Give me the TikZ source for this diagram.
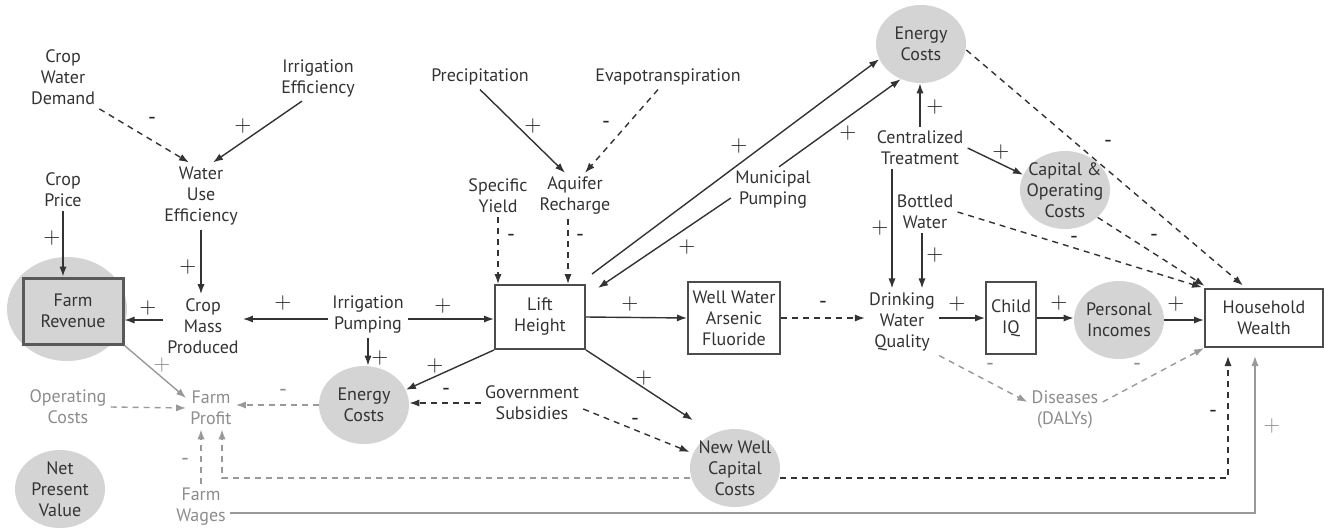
\documentclass[tikz,border=0pt]{standalone}
\usepackage{fontspec}
\setmainfont{PT Sans}
\usetikzlibrary{arrows.meta,shapes.geometric}

\begin{document}
\begin{tikzpicture}[x=0.5pt,y=-0.5pt,
  every node/.style={font=\fontsize{9}{10.5}\selectfont,align=center,inner sep=2pt,text=black!80},
  faint/.style={text=black!45},
  stock/.style={draw=black!70,line width=1pt},
  blob/.style={ellipse,fill=black!17,minimum width=45pt,minimum height=39pt,inner sep=-4pt},
  inc/.style={draw=black!80,line width=0.7pt,-{Latex[length=5pt,width=3.6pt]}},
  dec/.style={inc,dash pattern=on 3pt off 2.5pt},
  pale/.style={draw=black!40},
  sgn/.style={font=\fontsize{11}{11}\selectfont,inner sep=0pt,text=black!85}]
  \useasboundingbox (0,0) rectangle (1324,531);

  % variables
  \node (cwd) at (63,77) {Crop\\Water\\Demand};
  \node (ieff) at (318,78) {Irrigation\\Efficiency};
  \node (wue) at (201,196) {Water\\Use\\Efficiency};
  \node (cprice) at (63,190) {Crop\\Price};
  \node[blob,minimum width=60pt,minimum height=52pt] (frevc) at (67,309) {};
  \node[stock,fill=black!17,draw=black!65,line width=1.5pt,minimum width=50pt,minimum height=33pt] (frev) at (73,311) {Farm\\Revenue};
  \node (cmass) at (203,326) {Crop\\Mass\\Produced};
  \node (ipump) at (368,315) {Irrigation\\Pumping};
  \node[stock,minimum width=45pt,minimum height=32pt] (lift) at (540,317) {Lift\\Height};
  \node[stock,minimum width=46pt,minimum height=36pt] (wwaf) at (734,318) {Well Water\\Arsenic\\Fluoride};
  \node (dwq) at (902,322) {Drinking\\Water\\Quality};
  \node[stock,minimum width=25pt,minimum height=36pt] (ciq) at (1011,318) {Child\\IQ};
  \node[blob] (pinc) at (1119,320) {Personal\\Incomes};
  \node[stock,minimum width=59pt,minimum height=29pt] (hw) at (1264,318) {Household\\Wealth};
  \node[faint] (dis) at (1065,410) {Diseases\\(DALYs)};
  \node[blob] (ecb) at (364,405) {Energy\\Costs};
  \node[faint] (fprof) at (211,408) {Farm\\Profit};
  \node[faint] (opc) at (68,407) {Operating\\Costs};
  \node[blob] (npv) at (60,489) {Net\\Present\\Value};
  \node[faint] (fwag) at (201,507) {Farm\\Wages};
  \node (gsub) at (532,403) {Government\\Subsidies};
  \node[blob] (nwcc) at (735,468) {New Well\\Capital\\Costs};
  \node (sy) at (498,196) {Specific\\Yield};
  \node (ar) at (575,196) {Aquifer\\Recharge};
  \node (prec) at (480,77) {Precipitation};
  \node (evap) at (668,77) {Evapotranspiration};
  \node (mpump) at (773,190) {Municipal\\Pumping};
  \node[blob] (ect) at (921,44) {Energy\\Costs};
  \node (ctreat) at (920,148) {Centralized\\Treatment};
  \node[blob] (cop) at (1065,190) {Capital \&\\Operating\\Costs};
  \node (bw) at (925,212) {Bottled\\Water};

  % farm side
  \draw[dec] (cwd.south east) -- ([xshift=-6pt]wue.north);
  \draw[inc] ([xshift=-8pt]ieff.south) -- ([xshift=6pt]wue.north);
  \draw[inc] (cprice.south) -- (cprice.south |- frev.north);
  \draw[inc] (wue.south) -- (wue.south |- cmass.north);
  \draw[inc] ([yshift=3pt]cmass.west) -- ([yshift=3pt]cmass.west -| frev.east);
  \draw[inc] ([yshift=-2pt]ipump.west) -- ([yshift=-2pt]ipump.west -| cmass.east);
  \draw[inc] ([yshift=-2pt]ipump.east) -- ([yshift=-2pt]ipump.east -| lift.west);
  \draw[inc] (ipump.south) -- (ipump.south |- ecb.north);
  \draw[inc] (lift.south west) -- (ecb.20);
  \draw[dec] (gsub.west) -- (gsub.west -| ecb.east);
  \draw[dec,pale] (ecb.west) -- (ecb.west -| fprof.east);
  \draw[inc,pale] (frev.south east) -- ([yshift=5pt]fprof.west);
  \draw[dec,pale] (opc.east) -- (fprof.west);
  \draw[dec,pale] (fwag.north) -- (fwag.north |- fprof.south);
  \draw[dec,pale] ([yshift=-5pt]nwcc.west) -| ([xshift=5.5pt]fprof.south);

  % aquifer and lift
  \draw[inc] (prec.south) -- ([xshift=-5pt]ar.north);
  \draw[dec] ([xshift=-5pt]evap.south) -- ([xshift=5pt]ar.north);
  \draw[dec] (sy.south) -- (sy.south |- lift.north);
  \draw[dec] ([xshift=-3.5pt]ar.south) -- ([xshift=-3.5pt]ar.south |- lift.north);
  \draw[inc] ([xshift=3pt,yshift=5pt]lift.north east) -- (ect.200);
  \draw[inc] ([xshift=3pt]mpump.north) -- (ect.240);
  \draw[inc] ([yshift=-4pt]mpump.west) -- ([xshift=6pt,yshift=-2pt]lift.north east);
  \draw[inc] (lift.east) -- (wwaf.west);
  \draw[inc] (lift.south east) -- ([shift={(-5pt,10pt)}]nwcc.north west);
  \draw[dec] ([yshift=-3pt]gsub.east) -- ([yshift=8pt]nwcc.west);

  % drinking water
  \draw[dec] (wwaf.east) -- (wwaf.east -| dwq.west);
  \draw[inc] (ctreat.north) -- (ctreat.north |- ect.south);
  \draw[inc] (ctreat.east) -- (cop.160);
  \draw[inc] ([xshift=-14pt]ctreat.south) -- ([xshift=-5pt]dwq.north);
  \draw[inc] ([xshift=-1.5pt]bw.south) -- ([xshift=10pt]dwq.north);
  \draw[inc] (dwq.east |- ciq.west) -- (ciq.west);
  \draw[inc] (ciq.east) -- (ciq.east -| pinc.west);
  \draw[inc] (pinc.east) -- (pinc.east -| hw.west);
  \draw[dec,pale] (dwq.south east) -- ([yshift=4pt]dis.west);
  \draw[dec,pale] ([yshift=4pt]dis.east) -- (hw.south west);

  % household wealth
  \draw[dec,shorten >=2pt] ([yshift=-3pt]ect.east) -- ([xshift=-9pt]hw.north);
  \draw[dec,shorten >=2pt] (cop.-40) -- ([xshift=-28pt]hw.north);
  \draw[dec,shorten >=1pt] (bw.east) -- (hw.north west);
  \draw[dec,shorten >=4pt] ([yshift=-5pt]nwcc.east) -| ([xshift=-18pt]hw.south);
  \draw[inc,pale,shorten >=4pt] ([yshift=-3pt]fwag.east) -| ([xshift=-4.5pt]hw.south);

  % polarity signs
  \foreach [count=\i] \x/\y in {243/126,52/238,188/267,148/308,283/303,380/358,443/306,435/366,
      533/126,739/146,848/133,687/247,630/304,644/378,935/107,1001/152,880/228,935/255,
      957/304,1059/303,1176/304}
    \node[sgn] (up\i) at (\x,\y) {$+$};
  \foreach [count=\i] \x/\y in {162/365,1272/426}
    \node[sgn,text=black!45] (fup\i) at (\x,\y) {$+$};
  \foreach [count=\i] \x/\y in {152/121,606/125,511/238,580/238,446/392,635/422,823/305,
      1108/144,1154/238,1074/240,1213/414}
    \node[sgn] (dn\i) at (\x,\y) {-};
  \foreach [count=\i] \x/\y in {283/393,185/462,990/367,1137/367}
    \node[sgn,text=black!45] (fdn\i) at (\x,\y) {-};
\end{tikzpicture}
\end{document}
